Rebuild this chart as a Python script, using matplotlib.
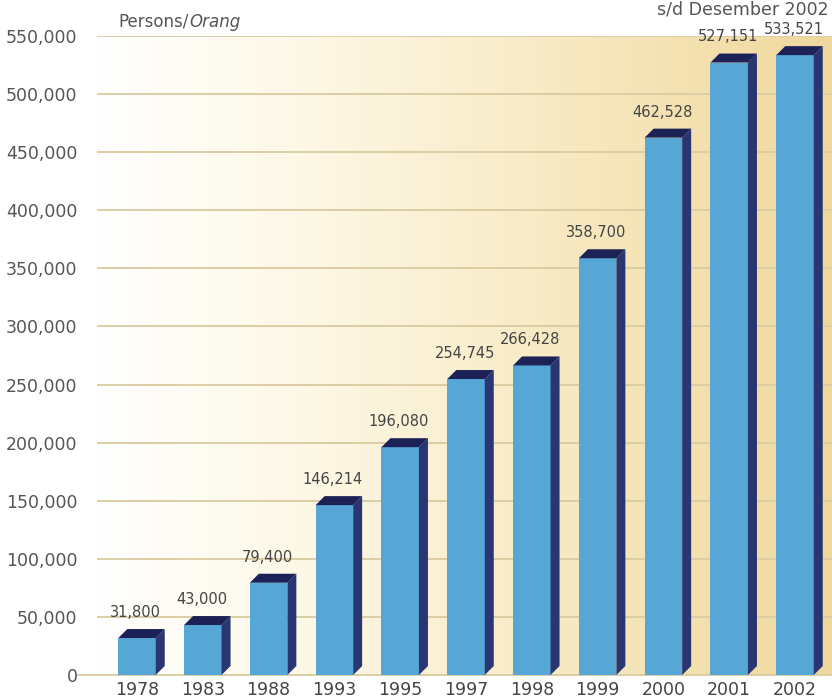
import numpy as np
import matplotlib
matplotlib.use("Agg")
import matplotlib.pyplot as plt
from matplotlib.colors import LinearSegmentedColormap
from matplotlib.patches import Polygon
import matplotlib.transforms as mtransforms

years = ["1978", "1983", "1988", "1993", "1995", "1997", "1998", "1999", "2000", "2001", "2002"]
values = [31800, 43000, 79400, 146214, 196080, 254745, 266428, 358700, 462528, 527151, 533521]
yticks = [0, 50000, 100000, 150000, 200000, 250000, 300000, 350000, 400000, 450000, 500000, 550000]

W, H = 832, 700
fig = plt.figure(figsize=(W / 100, H / 100), dpi=100)
ax_l, ax_r, ax_b, ax_t = 97, 832, 675, 36
ax = fig.add_axes([ax_l / W, 1 - ax_b / H, (ax_r - ax_l) / W, (ax_b - ax_t) / H])

step_px = 65.8
x0 = -(137 - ax_l) / step_px
x1 = x0 + (ax_r - ax_l) / step_px
ymax = 550000
ax.set_xlim(x0, x1)
ax.set_ylim(0, ymax)

# gradient background
cmap = LinearSegmentedColormap.from_list(
    "bg", [(0.0, "#ffffff"), (0.3, "#fdf7e4"), (0.7, "#f6e6bb"), (1.0, "#efd89d")])
grad = np.linspace(0, 1, 256).reshape(1, -1)
ax.imshow(grad, cmap=cmap, extent=[x0, x1, 0, ymax], aspect="auto", zorder=0,
          interpolation="bicubic")

# gridlines
gcol = "#dccda4"
for t in yticks[1:]:
    ax.axhline(t, color=gcol, lw=1.4, zorder=1)
trans = mtransforms.blended_transform_factory(ax.transAxes, ax.transData)
ax.plot([-(ax_l - 78) / (ax_r - ax_l), 1], [0, 0], transform=trans, color=gcol,
        lw=1.4, clip_on=False, zorder=1)

x = np.arange(len(years))
bw = 37.5 / step_px
dx = 9 / step_px
dy = 9 * ymax / (ax_b - ax_t)

front = "#57a7d6"
side = "#2a3672"
top = "#1c2255"

ax.bar(x, values, width=bw, color=front, zorder=3, linewidth=0)
for xi, v in zip(x, values):
    xl, xr = xi - bw / 2, xi + bw / 2
    ax.add_patch(Polygon([(xr, 0), (xr, v), (xr + dx, v + dy), (xr + dx, dy)],
                         closed=True, facecolor=side, edgecolor="none", zorder=3))
    ax.add_patch(Polygon([(xl, v), (xl + dx, v + dy), (xr + dx, v + dy), (xr, v)],
                         closed=True, facecolor=top, edgecolor="none", zorder=4))
    ax.annotate(f"{v:,}", (xi, v), xytext=(-1, 13), textcoords="offset points",
                ha="center", va="bottom", fontsize=10.5, color="#444444",
                zorder=5, annotation_clip=False)

ax.set_yticks(yticks)
ax.set_yticklabels([f"{t:,}" for t in yticks], fontsize=12.5, color="#555555")
ax.set_xticks(x)
ax.set_xticklabels(years, fontsize=12.5, color="#444444")
ax.tick_params(axis="both", length=0)
ax.tick_params(axis="y", pad=14)
ax.tick_params(axis="x", pad=4)
for s in ax.spines.values():
    s.set_visible(False)

t1 = fig.text(118 / W, 1 - 22 / H, "Persons/", fontsize=12, color="#555555",
              ha="left", va="center")
ax.annotate("Orang", xy=(1, 0.5), xycoords=t1, xytext=(1, 0), textcoords="offset points",
            fontsize=12, color="#555555", ha="left", va="center", style="italic",
            annotation_clip=False)
fig.text(829 / W, 1 - 9 / H, "s/d Desember 2002", fontsize=12.5, color="#555555",
         ha="right", va="center")

fig.savefig("out.png", dpi=100)
